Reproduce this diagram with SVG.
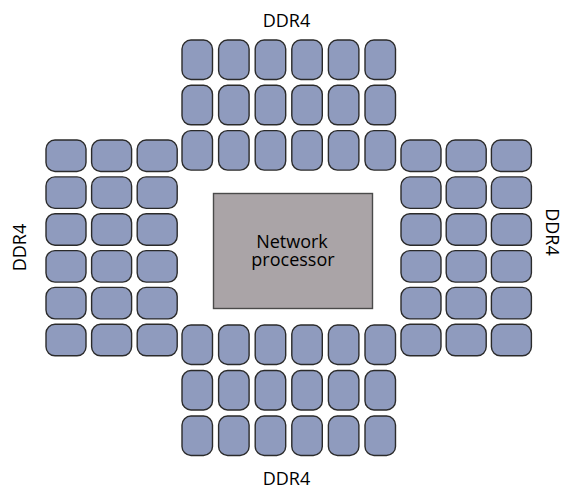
<svg xmlns="http://www.w3.org/2000/svg" width="563" height="489" viewBox="0 0 563 489">
<style>
.v{fill:#8f9bbe;stroke:#2b2b2b;stroke-width:1.4}
.h{fill:#8f9bbe;stroke:#2b2b2b;stroke-width:1.4}
.proc{fill:#aaa4a7;stroke:#4a4a4a;stroke-width:1.4}
.t{font-family:"Open Sans","Liberation Sans",sans-serif;font-size:18px;font-weight:500;fill:#000;text-anchor:middle}
</style>
<defs>
<rect id="cv" width="30.5" height="39.5" rx="9" ry="9" class="v"/>
<rect id="ch" width="40" height="31.5" rx="9" ry="9" class="h"/>
</defs>
<rect width="563" height="489" fill="#fff"/>
<g id="connectors"/>
<g id="ddr4-top">
<use href="#cv" x="182" y="40"/><use href="#cv" x="218.6" y="40"/><use href="#cv" x="255.2" y="40"/><use href="#cv" x="291.8" y="40"/><use href="#cv" x="328.4" y="40"/><use href="#cv" x="365" y="40"/>
<use href="#cv" x="182" y="85.3"/><use href="#cv" x="218.6" y="85.3"/><use href="#cv" x="255.2" y="85.3"/><use href="#cv" x="291.8" y="85.3"/><use href="#cv" x="328.4" y="85.3"/><use href="#cv" x="365" y="85.3"/>
<use href="#cv" x="182" y="130.6"/><use href="#cv" x="218.6" y="130.6"/><use href="#cv" x="255.2" y="130.6"/><use href="#cv" x="291.8" y="130.6"/><use href="#cv" x="328.4" y="130.6"/><use href="#cv" x="365" y="130.6"/>
<text class="t" x="286.5" y="26.5">DDR4</text>
</g>
<g id="ddr4-bottom">
<use href="#cv" x="182" y="325"/><use href="#cv" x="218.6" y="325"/><use href="#cv" x="255.2" y="325"/><use href="#cv" x="291.8" y="325"/><use href="#cv" x="328.4" y="325"/><use href="#cv" x="365" y="325"/>
<use href="#cv" x="182" y="370.5"/><use href="#cv" x="218.6" y="370.5"/><use href="#cv" x="255.2" y="370.5"/><use href="#cv" x="291.8" y="370.5"/><use href="#cv" x="328.4" y="370.5"/><use href="#cv" x="365" y="370.5"/>
<use href="#cv" x="182" y="416"/><use href="#cv" x="218.6" y="416"/><use href="#cv" x="255.2" y="416"/><use href="#cv" x="291.8" y="416"/><use href="#cv" x="328.4" y="416"/><use href="#cv" x="365" y="416"/>
<text class="t" x="286.5" y="485">DDR4</text>
</g>
<g id="ddr4-left">
<use href="#ch" x="46" y="140"/><use href="#ch" x="91.6" y="140"/><use href="#ch" x="137.2" y="140"/>
<use href="#ch" x="46" y="176.9"/><use href="#ch" x="91.6" y="176.9"/><use href="#ch" x="137.2" y="176.9"/>
<use href="#ch" x="46" y="213.7"/><use href="#ch" x="91.6" y="213.7"/><use href="#ch" x="137.2" y="213.7"/>
<use href="#ch" x="46" y="250.6"/><use href="#ch" x="91.6" y="250.6"/><use href="#ch" x="137.2" y="250.6"/>
<use href="#ch" x="46" y="287.4"/><use href="#ch" x="91.6" y="287.4"/><use href="#ch" x="137.2" y="287.4"/>
<use href="#ch" x="46" y="324.3"/><use href="#ch" x="91.6" y="324.3"/><use href="#ch" x="137.2" y="324.3"/>
<text class="t" transform="translate(25.5,247.5) rotate(-90)">DDR4</text>
</g>
<g id="ddr4-right">
<use href="#ch" x="401" y="140"/><use href="#ch" x="446.2" y="140"/><use href="#ch" x="491.4" y="140"/>
<use href="#ch" x="401" y="176.9"/><use href="#ch" x="446.2" y="176.9"/><use href="#ch" x="491.4" y="176.9"/>
<use href="#ch" x="401" y="213.7"/><use href="#ch" x="446.2" y="213.7"/><use href="#ch" x="491.4" y="213.7"/>
<use href="#ch" x="401" y="250.6"/><use href="#ch" x="446.2" y="250.6"/><use href="#ch" x="491.4" y="250.6"/>
<use href="#ch" x="401" y="287.4"/><use href="#ch" x="446.2" y="287.4"/><use href="#ch" x="491.4" y="287.4"/>
<use href="#ch" x="401" y="324.3"/><use href="#ch" x="446.2" y="324.3"/><use href="#ch" x="491.4" y="324.3"/>
<text class="t" transform="translate(545.5,232) rotate(90)">DDR4</text>
</g>
<g id="network-processor">
<rect class="proc" x="213.5" y="193.5" width="159" height="115"/>
<text class="t"><tspan x="292" y="248">Network</tspan><tspan x="293" y="266">processor</tspan></text>
</g>
</svg>
